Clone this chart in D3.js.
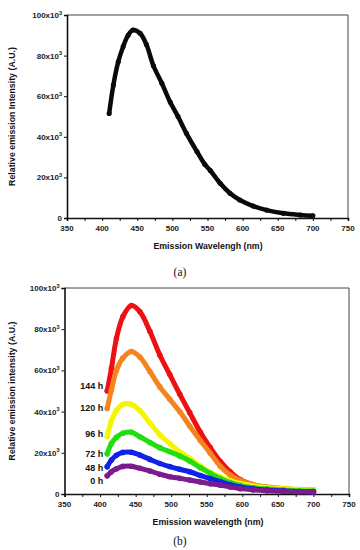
<!DOCTYPE html>
<html>
<head>
<meta charset="utf-8">
<script src="https://cdn.jsdelivr.net/npm/d3@7"></script>
<style>
  body { margin: 0; background: #fff; }
  svg { display: block; font-family: "Liberation Sans", Arial, sans-serif; }
  .tick-label { font-size: 8px; font-weight: bold; fill: #222; }
  .axis-title { font-size: 8.8px; font-weight: bold; fill: #111; }
  .series-label { font-size: 9px; font-weight: bold; fill: #111; }
  .panel-label { font-family: "Liberation Serif", "Times New Roman", serif; font-size: 11.5px; fill: #111; }
</style>
</head>
<body>
<div id="chart"></div>
<script>
var width = 360,
    height = 550;

// ticks
var xTicks = [350, 400, 450, 500, 550, 600, 650, 700, 750];
var yTicks = [0, 20, 40, 60, 80, 100];   // x10^3

// panel (a): single spectrum (wavelength nm, intensity x10^3)
var aWave = [410, 416, 423, 430, 437, 444, 454, 463, 473, 485, 497, 508, 520, 535, 546, 554, 568, 582, 596, 615, 634, 658, 682, 700];
var aValue = [51.5, 65.5, 77, 84.5, 90, 92.6, 91, 85.5, 75, 66.4, 57, 50, 41.7, 32.7, 26.5, 23.4, 17.1, 12.2, 8.9, 5.9, 3.9, 2.3, 1.5, 1.1];

// panel (b): spectra over time
var bWave = [410, 416, 423, 432, 444, 456, 470, 484, 498, 512, 526, 541, 555, 569, 583, 597, 615, 635, 658, 680, 700];
var s144 = [50, 61, 75.5, 86, 91.5, 88.5, 79, 67.5, 58, 48.5, 39.5, 30, 22.5, 15.8, 10.8, 7, 4.5, 2.8, 1.8, 1.4, 1.2];
var s120 = [41.5, 50.5, 60, 66, 69.2, 66.5, 59.5, 52, 46, 40, 33, 26, 19.8, 13.5, 9.2, 6.6, 4.6, 3.4, 2.7, 2.2, 2];
var s96  = [27.8, 35.5, 40.5, 43.5, 43.5, 40.5, 34.5, 28.8, 24.5, 20.5, 17.3, 13.5, 10.5, 8.3, 6.4, 5.1, 4, 3.1, 2.5, 2.1, 1.9];
var s72  = [19.5, 24.5, 27.5, 29.5, 30, 27.8, 25, 22.5, 20.5, 18.5, 16, 12.8, 10, 7.5, 5.5, 4.2, 3.1, 2.4, 1.9, 1.6, 1.4];
var s48  = [13.2, 16.5, 18.8, 20.2, 20.3, 18.9, 16.8, 14.8, 13.3, 12, 10.8, 9, 7.5, 6, 4.5, 3.4, 2.5, 1.9, 1.5, 1.2, 1.1];
var s0   = [8.8, 10.8, 12.2, 13.4, 13.5, 12.5, 11.2, 9.6, 8.4, 7.6, 6.8, 5.8, 5, 4.3, 3.4, 2.6, 2, 1.6, 1.3, 1.1, 1];
var bSeries = [s144, s120, s96, s72, s48, s0];
var bLabels = ["144 h", "120 h", "96 h", "72 h", "48 h", "0 h"];
var bColors = ["#ee1111", "#f5841f", "#f5f500", "#22dd11", "#1122e8", "#7a1b8e"];

var svg = d3.select("#chart").append("svg")
    .attr("width", width)
    .attr("height", height);

function drawPanel(opt) {
    var x = d3.scaleLinear().domain([350, 750]).range([opt.left, opt.right]);
    var y = d3.scaleLinear().domain([0, 100]).range([opt.bottom, opt.top]);
    var g = svg.append("g");

    // frame (top and right)
    g.append("path")
        .attr("d", "M" + opt.left + "," + opt.top + "H" + opt.right + "V" + opt.bottom)
        .attr("fill", "none")
        .attr("stroke", "#444")
        .attr("stroke-width", 1);

    // x axis with minor ticks
    var xAxis = d3.axisBottom(x)
        .tickValues(d3.range(350, 751, 25))
        .tickSize(3)
        .tickFormat("");
    var gx = g.append("g")
        .attr("transform", "translate(0," + opt.bottom + ")")
        .call(xAxis);
    gx.select(".domain").attr("stroke", "#111").attr("stroke-width", 1.6);
    gx.selectAll(".tick line").attr("stroke", "#111").attr("stroke-width", 1);

    g.selectAll(".xlab")
        .data(xTicks)
        .enter().append("text")
        .attr("class", "tick-label")
        .attr("x", function (d) { return x(d); })
        .attr("y", opt.bottom + 13)
        .attr("text-anchor", "middle")
        .text(function (d) { return d; });

    // y axis
    var yAxis = d3.axisLeft(y)
        .tickValues(yTicks)
        .tickSize(3)
        .tickFormat("");
    var gy = g.append("g")
        .attr("transform", "translate(" + opt.left + ",0)")
        .call(yAxis);
    gy.select(".domain").attr("stroke", "#111").attr("stroke-width", 1.6);
    gy.selectAll(".tick line").attr("stroke", "#111").attr("stroke-width", 1);

    var ylab = g.selectAll(".ylab")
        .data(yTicks)
        .enter().append("text")
        .attr("class", "tick-label")
        .attr("x", opt.left - 5)
        .attr("y", function (d) { return y(d) + 3; })
        .attr("text-anchor", "end");
    ylab.filter(function (d) { return d === 0; }).text("0");
    ylab.filter(function (d) { return d !== 0; })
        .text(function (d) { return d + "x10"; })
        .append("tspan")
        .attr("font-size", "5.5px")
        .attr("dy", -3.5)
        .text("3");

    // titles
    g.append("text")
        .attr("class", "axis-title")
        .attr("transform", "translate(15," + ((opt.top + opt.bottom) / 2) + ") rotate(-90)")
        .attr("text-anchor", "middle")
        .text(opt.yTitle);

    g.append("text")
        .attr("class", "axis-title")
        .attr("x", 208)
        .attr("y", opt.bottom + 31)
        .attr("text-anchor", "middle")
        .text(opt.xTitle);

    g.append("text")
        .attr("class", "panel-label")
        .attr("x", 180)
        .attr("y", opt.panelY)
        .attr("text-anchor", "middle")
        .text(opt.panel);

    var line = d3.line()
        .x(function (d) { return x(d[0]); })
        .y(function (d) { return y(d[1]); })
        .curve(d3.curveCatmullRom);

    opt.series.forEach(function (s) {
        var pts = d3.zip(opt.wave, s.values);
        g.append("path")
            .datum(pts)
            .attr("d", line)
            .attr("fill", "none")
            .attr("stroke", s.color)
            .attr("stroke-width", opt.lineWidth)
            .attr("stroke-linecap", "round")
            .attr("stroke-linejoin", "round");
        g.selectAll(null)
            .data(pts)
            .enter().append("circle")
            .attr("cx", function (d) { return x(d[0]); })
            .attr("cy", function (d) { return y(d[1]); })
            .attr("r", opt.lineWidth / 2 + 0.3)
            .attr("fill", s.color);
        if (s.label) {
            g.append("text")
                .attr("class", "series-label")
                .attr("x", x(opt.wave[0]) - 4)
                .attr("y", y(s.values[0]) + s.dy)
                .attr("text-anchor", "end")
                .text(s.label);
        }
    });
}

drawPanel({
    left: 67, right: 348, top: 15, bottom: 218,
    yTitle: "Relative emission Intensity (A.U.)",
    xTitle: "Emission Wavelengh (nm)",
    panel: "(a)", panelY: 276,
    wave: aWave,
    lineWidth: 4.5,
    series: [{ values: aValue, color: "#0a0a0a" }]
});

var labelDy = [-2.5, 2.5, 0, 3, 4.5, 8.5];
drawPanel({
    left: 64.5, right: 349, top: 288, bottom: 494,
    yTitle: "Relative emission intensity (A.U.)",
    xTitle: "Emission wavelength (nm)",
    panel: "(b)", panelY: 545,
    wave: bWave,
    lineWidth: 5,
    series: bSeries.map(function (v, i) {
        return { values: v, color: bColors[i], label: bLabels[i], dy: labelDy[i] };
    })
});
</script>
</body>
</html>
